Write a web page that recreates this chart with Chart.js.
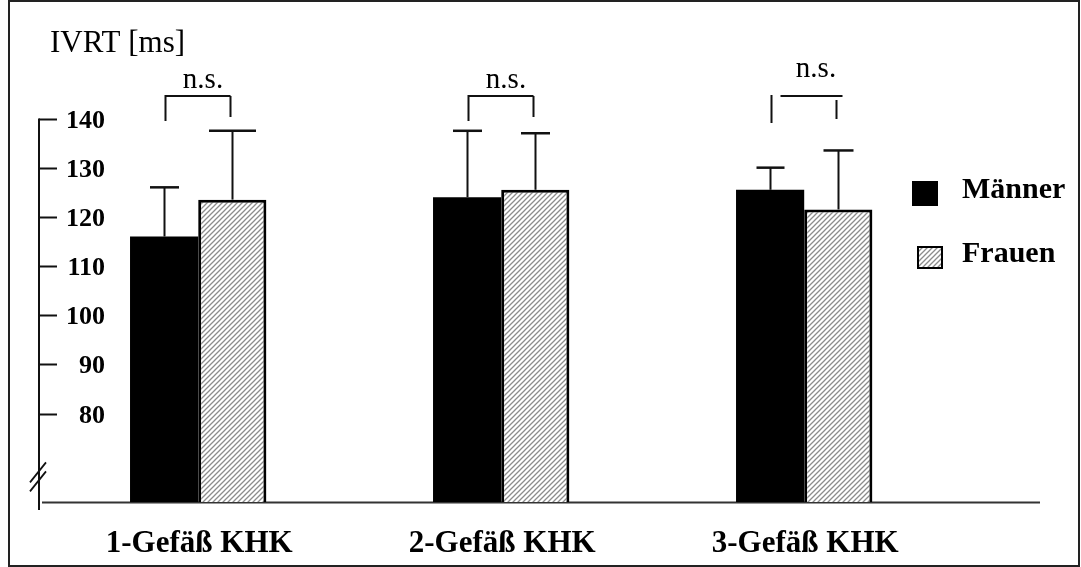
<!DOCTYPE html>
<html>
<head>
<meta charset="utf-8">
<script src="https://cdn.jsdelivr.net/npm/chart.js@4/dist/chart.umd.min.js"></script>
<style>
  html, body { margin: 0; padding: 0; background: #fff; }
  canvas { display: block; }
</style>
</head>
<body>
<canvas id="c" width="1081" height="567"></canvas>
<script>
// IVRT by number of diseased vessels, men vs. women (mean + SD)
const categories   = ['1-Gefäß KHK', '2-Gefäß KHK', '3-Gefäß KHK'];
const seriesNames  = ['Männer', 'Frauen'];
const maennerMean  = [116, 124, 125.5];
const maennerSD    = [10, 13.5, 4.5];
const frauenMean   = [123.5, 125.5, 121.5];
const frauenSD     = [14, 11.5, 12];
const yTicks       = [140, 130, 120, 110, 100, 90, 80];
const axisTitle    = 'IVRT [ms]';
const sigLabels    = ['n.s.', 'n.s.', 'n.s.'];

const SERIF = '"Liberation Serif", "Times New Roman", Times, serif';

// diagonal grey hatching for the women's bars
function makeHatch() {
  const s = 5;
  const c = document.createElement('canvas');
  c.width = s; c.height = s;
  const g = c.getContext('2d');
  g.fillStyle = '#fff';
  g.fillRect(0, 0, s, s);
  g.strokeStyle = '#8c8c8c';
  g.lineWidth = 1.3;
  g.beginPath();
  g.moveTo(0, s); g.lineTo(s, 0);
  g.moveTo(-1, 1); g.lineTo(1, -1);
  g.moveTo(s - 1, s + 1); g.lineTo(s + 1, s - 1);
  g.stroke();
  return g.createPattern(c, 'repeat');
}
const ctx0 = document.getElementById('c').getContext('2d');
const hatch = makeHatch();

// cap half-widths of the error whiskers, per series and group
const capHalf = [[14.5, 14.5, 14], [23.5, 14.5, 15]];

const decor = {
  id: 'decor',
  beforeDatasetsDraw(chart) {
    const { ctx, chartArea, scales: { y } } = chart;
    const y0 = y.getPixelForValue(y.min);
    // baseline
    ctx.save();
    ctx.strokeStyle = '#333';
    ctx.lineWidth = 2;
    ctx.beginPath();
    ctx.moveTo(42, y0 + 0.5);
    ctx.lineTo(1040, y0 + 0.5);
    ctx.stroke();
    ctx.restore();
  },
  afterDatasetsDraw(chart) {
    const { ctx, scales: { x, y } } = chart;
    const means = [maennerMean, frauenMean];
    const sds = [maennerSD, frauenSD];

    // error whiskers (upper only)
    ctx.save();
    ctx.strokeStyle = '#111';
    for (let d = 0; d < 2; d++) {
      const meta = chart.getDatasetMeta(d);
      meta.data.forEach((bar, i) => {
        const top = y.getPixelForValue(means[d][i]);
        const cap = y.getPixelForValue(means[d][i] + sds[d][i]);
        const cx = Math.round(bar.x) + 0.5;
        ctx.lineWidth = 2;
        ctx.beginPath();
        ctx.moveTo(cx, top);
        ctx.lineTo(cx, cap);
        ctx.stroke();
        ctx.lineWidth = 2.5;
        ctx.beginPath();
        ctx.moveTo(cx - capHalf[d][i], cap);
        ctx.lineTo(cx + capHalf[d][i], cap);
        ctx.stroke();
      });
    }
    ctx.restore();

    // y axis with inward ticks and a break mark
    const axX = 39;
    const yTop = y.getPixelForValue(yTicks[0]);
    ctx.save();
    ctx.strokeStyle = '#111';
    ctx.lineWidth = 2;
    ctx.beginPath();
    ctx.moveTo(axX, yTop);
    ctx.lineTo(axX, 510);
    ctx.stroke();
    ctx.font = 'bold 26px ' + SERIF;
    ctx.fillStyle = '#000';
    ctx.textAlign = 'right';
    ctx.textBaseline = 'middle';
    yTicks.forEach(v => {
      const py = Math.round(y.getPixelForValue(v)) + 0.5;
      ctx.beginPath();
      ctx.moveTo(axX, py);
      ctx.lineTo(57, py);
      ctx.stroke();
      ctx.fillText(String(v), 105, py + 2);
    });
    // break: two short parallel slashes
    const yb = y.getPixelForValue(67);
    ctx.lineWidth = 1.8;
    ctx.beginPath();
    ctx.moveTo(30, yb + 5);  ctx.lineTo(46, yb - 15);
    ctx.moveTo(30, yb + 14); ctx.lineTo(46, yb - 6);
    ctx.stroke();
    ctx.restore();

    // axis title
    ctx.save();
    ctx.font = '31px ' + SERIF;
    ctx.fillStyle = '#000';
    ctx.textAlign = 'left';
    ctx.textBaseline = 'alphabetic';
    ctx.fillText(axisTitle, 50, 52);
    ctx.restore();

    // category labels
    ctx.save();
    ctx.font = 'bold 31px ' + SERIF;
    ctx.fillStyle = '#000';
    ctx.textAlign = 'center';
    ctx.textBaseline = 'alphabetic';
    categories.forEach((c, i) => {
      ctx.fillText(c, x.getPixelForValue(i) + 1, 552);
    });
    ctx.restore();

    // significance brackets
    const mM = chart.getDatasetMeta(0).data;
    const mF = chart.getDatasetMeta(1).data;
    ctx.save();
    ctx.strokeStyle = '#111';
    ctx.lineWidth = 2;
    ctx.font = '29px ' + SERIF;
    ctx.fillStyle = '#000';
    ctx.textAlign = 'center';
    ctx.textBaseline = 'alphabetic';
    sigLabels.forEach((lab, i) => {
      const lx = Math.round(mM[i].x) + 1.5;
      const rx = Math.round(mF[i].x) - 1.5;
      ctx.beginPath();
      if (i < 2) {
        ctx.moveTo(lx, 121); ctx.lineTo(lx, 96); ctx.lineTo(rx, 96);
        ctx.moveTo(rx, 96);  ctx.lineTo(rx, 117);
        ctx.stroke();
        ctx.fillText(lab, (lx + rx) / 2 + 5, 88);
      } else {
        ctx.moveTo(lx, 95);  ctx.lineTo(lx, 123);
        ctx.moveTo(lx + 9, 96); ctx.lineTo(rx + 6, 96);
        ctx.moveTo(rx, 100); ctx.lineTo(rx, 119);
        ctx.stroke();
        ctx.fillText(lab, (lx + rx) / 2 + 12, 77);
      }
    });
    ctx.restore();

    // legend
    ctx.save();
    ctx.fillStyle = '#000';
    ctx.fillRect(912, 181, 26, 25);
    ctx.fillStyle = hatch;
    ctx.fillRect(918, 247, 24, 21);
    ctx.strokeStyle = '#000';
    ctx.lineWidth = 2;
    ctx.strokeRect(918, 247, 24, 21);
    ctx.font = 'bold 30px ' + SERIF;
    ctx.fillStyle = '#000';
    ctx.textAlign = 'left';
    ctx.textBaseline = 'alphabetic';
    ctx.fillText(seriesNames[0], 962, 198);
    ctx.fillText(seriesNames[1], 962, 262);
    ctx.restore();

    // frame
    ctx.save();
    ctx.strokeStyle = '#222';
    ctx.lineWidth = 2;
    ctx.strokeRect(9, 1, 1070, 565);
    ctx.restore();
  }
};

new Chart(ctx0, {
  type: 'bar',
  data: {
    labels: categories,
    datasets: [
      {
        label: seriesNames[0],
        data: maennerMean,
        backgroundColor: '#000',
        borderWidth: 0
      },
      {
        label: seriesNames[1],
        data: frauenMean,
        backgroundColor: hatch,
        borderColor: '#000',
        borderWidth: 3,
        borderSkipped: false
      }
    ]
  },
  options: {
    responsive: false,
    animation: false,
    devicePixelRatio: 1,
    layout: { padding: { left: 46.7, right: 125.3, top: 30, bottom: 65 } },
    datasets: { bar: { categoryPercentage: 0.45, barPercentage: 1.0 } },
    scales: {
      x: { display: false },
      y: { display: false, min: 62, max: 158 }
    },
    plugins: {
      legend: { display: false },
      tooltip: { enabled: false }
    }
  },
  plugins: [decor]
});
</script>
</body>
</html>
